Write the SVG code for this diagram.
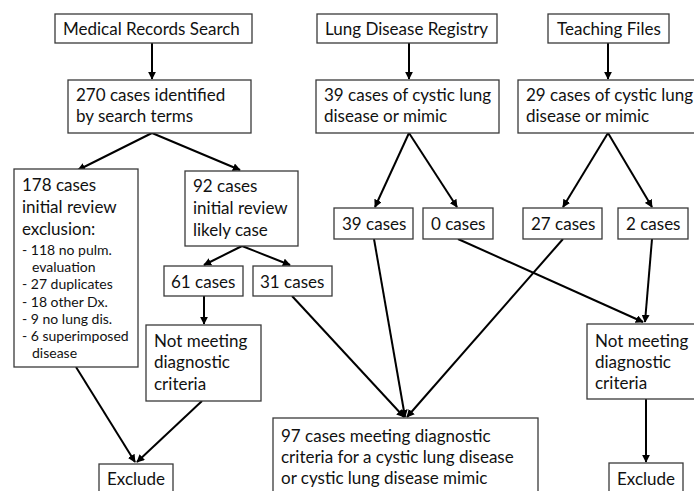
<svg xmlns="http://www.w3.org/2000/svg" width="694" height="491" viewBox="0 0 694 491">
<style>
.b{fill:#fff;stroke:#3a3a3a;stroke-width:1.3}
.t{font-family:Lato,"Liberation Sans",sans-serif;font-size:17px;fill:#111}
.s{font-family:Lato,"Liberation Sans",sans-serif;font-size:14px;fill:#111}
.c{stroke:#000;stroke-width:2;fill:none;marker-end:url(#a)}
</style>
<defs>
<marker id="a" viewBox="0 0 10 10" refX="9" refY="5" markerWidth="4" markerHeight="4" orient="auto" markerUnits="strokeWidth">
<path d="M0,0L10,5L0,10z" fill="#000"/>
</marker>
</defs>
<rect width="694" height="491" fill="#fff"/>
<g id="connectors">
<path class="c" d="M152,43V79"/>
<path class="c" d="M152,133L78,170"/>
<path class="c" d="M152,133L240,170"/>
<path class="c" d="M409,43V79"/>
<path class="c" d="M608,43V79"/>
<path class="c" d="M409,133L375,207"/>
<path class="c" d="M409,133L457,207"/>
<path class="c" d="M608,133L563,207"/>
<path class="c" d="M608,133L652,207"/>
<path class="c" d="M242,246L204,265"/>
<path class="c" d="M242,246L290,265"/>
<path class="c" d="M204,296V324"/>
<path class="c" d="M76,367L135,462"/>
<path class="c" d="M202,401L137,462"/>
<path class="c" d="M292,296L404,417"/>
<path class="c" d="M374,239L405,417"/>
<path class="c" d="M563,239L407,417"/>
<path class="c" d="M458,239L643,322"/>
<path class="c" d="M652,239L645,322"/>
<path class="c" d="M646,399V462"/>
</g>
<g id="medical"><rect class="b" x="55" y="14" width="197" height="29"/><text class="t" x="63" y="35">Medical Records Search</text></g>
<g id="registry"><rect class="b" x="317" y="14" width="180" height="29"/><text class="t" x="325" y="35">Lung Disease Registry</text></g>
<g id="teaching"><rect class="b" x="548" y="14" width="121" height="29"/><text class="t" x="557" y="35">Teaching Files</text></g>
<g id="n270"><rect class="b" x="68" y="80" width="183" height="53"/><text class="t" x="76" y="101">270 cases identified</text><text class="t" x="76" y="122">by search terms</text></g>
<g id="n39reg"><rect class="b" x="316" y="80" width="183" height="53"/><text class="t" x="324" y="101">39 cases of cystic lung</text><text class="t" x="324" y="122">disease or mimic</text></g>
<g id="n29tf"><rect class="b" x="518" y="80" width="182" height="53"/><text class="t" x="526" y="101">29 cases of cystic lung</text><text class="t" x="526" y="122">disease or mimic</text></g>
<g id="n178"><rect class="b" x="14" y="169" width="124" height="198"/>
<text class="t" x="22" y="191">178 cases</text><text class="t" x="22" y="213">initial review</text><text class="t" x="22" y="235">exclusion:</text>
<text class="s" x="22" y="255">- 118 no pulm.</text><text class="s" x="32" y="272">evaluation</text><text class="s" x="22" y="289">- 27 duplicates</text><text class="s" x="22" y="307">- 18 other Dx.</text><text class="s" x="22" y="324">- 9 no lung dis.</text><text class="s" x="22" y="341">- 6 superimposed</text><text class="s" x="32" y="358">disease</text></g>
<g id="n92"><rect class="b" x="185" y="171" width="113" height="75"/><text class="t" x="193" y="192">92 cases</text><text class="t" x="193" y="214">initial review</text><text class="t" x="193" y="236">likely case</text></g>
<g id="n61"><rect class="b" x="164" y="266" width="79" height="30"/><text class="t" x="171" y="288">61 cases</text></g>
<g id="n31"><rect class="b" x="253" y="266" width="79" height="30"/><text class="t" x="260" y="288">31 cases</text></g>
<g id="c39"><rect class="b" x="334" y="208" width="79" height="31"/><text class="t" x="342" y="230">39 cases</text></g>
<g id="c0"><rect class="b" x="423" y="208" width="70" height="31"/><text class="t" x="431" y="230">0 cases</text></g>
<g id="c27"><rect class="b" x="523" y="208" width="79" height="31"/><text class="t" x="531" y="230">27 cases</text></g>
<g id="c2"><rect class="b" x="618" y="208" width="70" height="31"/><text class="t" x="626" y="230">2 cases</text></g>
<g id="notmeetL"><rect class="b" x="146" y="325" width="115" height="76"/><text class="t" x="154" y="347">Not meeting</text><text class="t" x="154" y="368">diagnostic</text><text class="t" x="154" y="390">criteria</text></g>
<g id="notmeetR"><rect class="b" x="587" y="324" width="112" height="75"/><text class="t" x="595" y="347">Not meeting</text><text class="t" x="595" y="368">diagnostic</text><text class="t" x="595" y="389">criteria</text></g>
<g id="excludeL"><rect class="b" x="99" y="464" width="74" height="32"/><text class="t" x="107" y="485">Exclude</text></g>
<g id="excludeR"><rect class="b" x="609" y="463" width="74" height="33"/><text class="t" x="617" y="485">Exclude</text></g>
<g id="n97"><rect class="b" x="273" y="418" width="265" height="78"/><text class="t" x="281" y="442">97 cases meeting diagnostic</text><text class="t" x="281" y="463">criteria for a cystic lung disease</text><text class="t" x="281" y="484">or cystic lung disease mimic</text></g>
</svg>
